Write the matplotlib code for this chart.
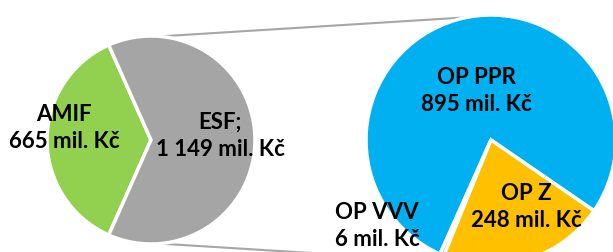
import numpy as np
import matplotlib
matplotlib.use("Agg")
import matplotlib.pyplot as plt

# data
left_labels = ["AMIF", "ESF;"]
left_values = [665, 1149]
right_labels = ["OP PPR", "OP VVV", "OP Z"]
right_values = [895, 6, 248]

left_colors = ["#92D050", "#A5A5A5"]
right_colors = ["#00B0F0", "#4472C4", "#FFC000"]

plt.rcParams['font.family'] = ['Lato', 'DejaVu Sans']

W, H = 613, 252
fig = plt.figure(figsize=(W / 100, H / 100), dpi=100)
ax = fig.add_axes([0, 0, 1, 1])

# left pie, AMIF centred on the left side
lc, lr = (151, 112), 104
amif_span = 360 * left_values[0] / sum(left_values)
ax.pie(left_values, colors=left_colors, center=lc, radius=lr,
       startangle=180 - amif_span / 2, counterclock=True,
       wedgeprops=dict(edgecolor='white', linewidth=2.5))

# right pie, OP Z ends at the lower right
rc, rr = (491, 112), 125
ax.pie(right_values, colors=right_colors, center=rc, radius=rr,
       startangle=-34.5, counterclock=True,
       wedgeprops=dict(edgecolor='white', linewidth=2.5))
ax.set_xlim(0, W)
ax.set_ylim(0, H)
ax.set_aspect('equal')
ax.axis('off')

# connector lines
for a_l, a_r in [(85, 101), (-85, -101)]:
    x0 = lc[0] + lr * np.cos(np.radians(a_l))
    y0 = lc[1] + lr * np.sin(np.radians(a_l))
    x1 = rc[0] + rr * np.cos(np.radians(a_r))
    y1 = rc[1] + rr * np.sin(np.radians(a_r))
    ax.plot([x0, x1], [y0, y1], color='#A6A6A6', lw=1.5, zorder=0,
            solid_capstyle='butt')

def fmt(v):
    return f"{v:,}".replace(",", " ") + " mil. Kč"

txt = dict(ha='center', va='center', fontsize=16, fontweight='bold',
           color='black', linespacing=1.35)
ax.text(64, H - 128, left_labels[0] + "\n" + fmt(left_values[0]), **txt)
ax.text(220, H - 136, left_labels[1] + "\n" + fmt(left_values[1]), **txt)
ax.text(476, H - 91, right_labels[0] + "\n" + fmt(right_values[0]), **txt)
ax.text(526, H - 207, right_labels[2] + "\n" + fmt(right_values[2]), **txt)
ax.text(377, H - 226, right_labels[1] + "\n" + fmt(right_values[1]), **txt)

fig.savefig("out.png", dpi=100)
